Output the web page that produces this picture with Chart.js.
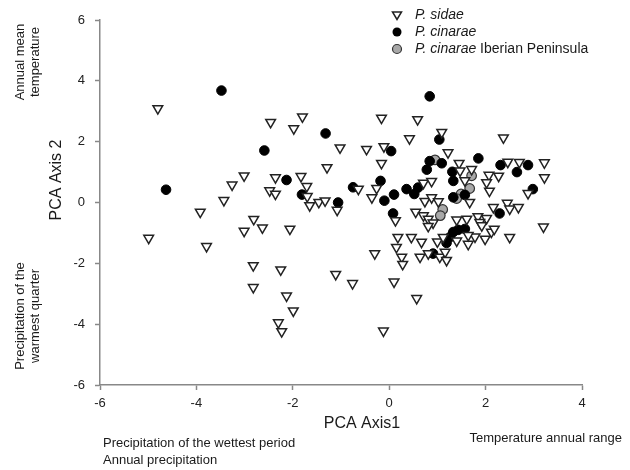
<!DOCTYPE html>
<html>
<head>
<meta charset="utf-8">
<script src="https://cdn.jsdelivr.net/npm/chart.js@4/dist/chart.umd.min.js"></script>
<style>
  body { margin: 0; background: #fff; }
  canvas { display: block; }
</style>
</head>
<body>
<canvas id="pca" width="630" height="470"></canvas>
<script>
// ---- data (PCA axis 1, PCA axis 2) ----
const sidaeX = [-4.80,-4.99,-3.01,-3.26,-3.43,-3.92,-2.81,-3.01,-3.79,-2.82,-2.82,-2.63,-2.06,-2.46,-1.80,-1.98,-1.02,-1.29,-0.16,0.59,0.42,-0.47,-0.11,-0.16,-2.36,-1.83,-1.71,-2.48,-2.36,-1.70,-1.65,-1.46,-1.33,-1.08,-0.64,-0.26,-0.36,0.13,0.55,1.09,2.37,1.22,1.45,1.47,1.71,1.57,2.46,2.70,3.22,3.22,2.07,2.27,2.02,2.08,2.88,1.67,0.71,0.88,0.74,0.88,1.02,0.71,0.81,0.91,0.81,1.40,1.61,1.84,2.02,1.88,1.92,2.16,2.45,2.50,2.68,3.20,0.18,0.46,0.67,0.15,0.26,0.28,0.64,0.81,1.05,1.16,1.19,1.00,1.12,1.40,1.64,1.78,1.64,1.99,2.12,2.18,2.50,0.57,-2.25,-2.13,-1.99,-2.30,-2.23,-1.11,-0.76,-0.30,-0.12,0.10];
const sidaeY = [3.09,-1.17,0.88,0.58,0.07,-0.31,-0.55,-0.94,-1.44,-2.07,-2.79,-0.83,-0.87,2.64,2.82,2.43,1.80,1.15,2.78,2.73,2.10,1.75,1.84,1.29,0.82,0.86,0.53,0.39,0.28,0.20,-0.10,0.01,0.06,-0.25,0.44,0.47,0.16,-0.59,-0.31,2.31,2.13,1.64,1.29,1.04,1.09,0.72,1.33,1.32,1.31,0.82,0.90,0.87,0.66,0.38,0.30,0.01,0.64,0.70,0.04,0.16,0.03,-0.43,-0.54,-0.67,-0.78,-0.57,-0.54,-0.46,-0.52,-0.65,-0.76,-0.16,-0.02,-0.21,-0.16,-0.80,-1.14,-1.14,-1.30,-1.47,-1.79,-2.03,-1.79,-1.68,-1.79,-1.63,-1.90,-1.29,-1.14,-1.26,-1.37,-1.13,-1.08,-1.20,-0.97,-0.87,-1.14,-3.15,-2.21,-3.07,-3.56,-3.95,-4.24,-2.36,-2.66,-1.68,-4.22,-2.61];

const cinaraeX = [-3.48,-4.63,0.84,-1.32,-2.59,0.04,-2.13,-1.81,-1.06,-0.75,-0.18,-0.10,0.10,0.36,0.52,0.60,0.08,1.04,1.85,0.84,1.09,0.78,1.31,1.33,2.31,2.88,2.65,2.98,1.57,1.33,2.29,0.91,1.19,1.26,1.33,1.43,1.57];
const cinaraeY = [3.68,0.42,3.49,2.27,1.71,1.69,0.74,0.26,0.00,0.50,0.71,0.06,0.26,0.44,0.28,0.49,-0.36,2.07,1.45,1.36,1.29,1.08,1.01,0.71,1.23,1.23,1.00,0.44,0.25,0.17,-0.36,-1.68,-1.33,-1.14,-0.97,-0.90,-0.87];

const iberiaX = [0.95,1.71,1.67,1.49,1.40,1.11,1.06];
const iberiaY = [1.40,0.88,0.46,0.28,0.13,-0.23,-0.43];

const xTicks = [-6, -4, -2, 0, 2, 4];
const yTicks = [-6, -4, -2, 0, 2, 4, 6];

const FONT = "'Liberation Sans', Arial, sans-serif";

function toPoints(xs, ys) {
    return xs.map((x, i) => ({ x: x, y: ys[i] }));
}

// extra labels, axis titles and the legend, drawn on top of the chart
const annotations = {
    id: 'annotations',
    afterDraw(chart) {
        const ctx = chart.ctx;
        ctx.save();
        ctx.fillStyle = '#1a1a1a';

        // rotated texts on the left
        function rotText(lines, x0, cy, size, gap) {
            ctx.save();
            ctx.font = size + 'px ' + FONT;
            ctx.textAlign = 'center';
            ctx.textBaseline = 'middle';
            lines.forEach((t, i) => {
                ctx.save();
                ctx.translate(x0 + i * gap, cy);
                ctx.rotate(-Math.PI / 2);
                ctx.fillText(t, 0, 0);
                ctx.restore();
            });
            ctx.restore();
        }
        rotText(['Annual mean', 'temperature'], 20, 62, 13, 15);
        rotText(['Precipitation of the', 'warmest quarter'], 20, 316, 13, 15);
        rotText(['PCA Axis 2'], 57, 180, 16, 0);

        // bottom texts
        ctx.textBaseline = 'middle';
        ctx.font = '16px ' + FONT;
        ctx.textAlign = 'center';
        ctx.fillText('PCA Axis1', 362, 424);
        ctx.font = '13px ' + FONT;
        ctx.textAlign = 'left';
        ctx.fillText('Precipitation of the wettest period', 103, 443);
        ctx.fillText('Annual precipitation', 103, 460);
        ctx.textAlign = 'right';
        ctx.fillText('Temperature annual range', 622, 438);

        // legend
        const lx = 397, rows = [15, 32, 49];
        ctx.lineWidth = 1.5;
        // triangle pointing down
        ctx.beginPath();
        ctx.moveTo(lx - 4.5, rows[0] - 3);
        ctx.lineTo(lx + 4.5, rows[0] - 3);
        ctx.lineTo(lx, rows[0] + 4.5);
        ctx.closePath();
        ctx.fillStyle = '#fff';
        ctx.fill();
        ctx.strokeStyle = '#222';
        ctx.stroke();
        ctx.beginPath();
        ctx.arc(lx, rows[1], 4.5, 0, Math.PI * 2);
        ctx.fillStyle = '#000';
        ctx.fill();
        ctx.beginPath();
        ctx.arc(lx, rows[2], 4.5, 0, Math.PI * 2);
        ctx.fillStyle = '#a8a8a8';
        ctx.fill();
        ctx.strokeStyle = '#333';
        ctx.lineWidth = 1.2;
        ctx.stroke();

        ctx.fillStyle = '#1a1a1a';
        ctx.textAlign = 'left';
        ctx.font = 'italic 14px ' + FONT;
        ctx.fillText('P. sidae', 415, rows[0]);
        ctx.fillText('P. cinarae', 415, rows[1]);
        ctx.fillText('P. cinarae', 415, rows[2]);
        const w = ctx.measureText('P. cinarae ').width;
        ctx.font = '14px ' + FONT;
        ctx.fillText('Iberian Peninsula', 415 + w, rows[2]);
        ctx.restore();
    }
};

window.addEventListener('load', function () {
    const ctx = document.getElementById('pca').getContext('2d');
    new Chart(ctx, {
        type: 'scatter',
        data: {
            datasets: [
                {
                    label: 'P. sidae',
                    data: toPoints(sidaeX, sidaeY),
                    pointStyle: 'triangle',
                    rotation: 180,
                    pointRadius: 5.6,
                    backgroundColor: '#ffffff',
                    borderColor: '#222222',
                    borderWidth: 1.5
                },
                {
                    label: 'P. cinarae',
                    data: toPoints(cinaraeX, cinaraeY),
                    pointStyle: 'circle',
                    pointRadius: 4.8,
                    backgroundColor: '#000000',
                    borderColor: '#000000',
                    borderWidth: 1
                },
                {
                    label: 'P. cinarae Iberian Peninsula',
                    data: toPoints(iberiaX, iberiaY),
                    pointStyle: 'circle',
                    pointRadius: 4.8,
                    backgroundColor: '#a8a8a8',
                    borderColor: '#333333',
                    borderWidth: 1.2
                }
            ]
        },
        options: {
            responsive: false,
            animation: false,
            layout: { padding: { left: 0, right: 48, top: 20, bottom: 0 } },
            plugins: {
                legend: { display: false },
                tooltip: { enabled: false }
            },
            scales: {
                x: {
                    min: xTicks[0],
                    max: xTicks[xTicks.length - 1],
                    afterFit: s => { s.height = 85; },
                    afterBuildTicks: s => { s.ticks = xTicks.map(v => ({ value: v })); },
                    grid: { drawOnChartArea: false, drawTicks: true, tickLength: 5, tickColor: '#888', tickWidth: 1.5 },
                    border: { color: '#888', width: 1.5 },
                    ticks: { padding: 6, color: '#222', font: { family: FONT, size: 13 }, maxRotation: 0 }
                },
                y: {
                    min: yTicks[0],
                    max: yTicks[yTicks.length - 1],
                    afterFit: s => { s.width = 100; },
                    afterBuildTicks: s => { s.ticks = yTicks.map(v => ({ value: v })); },
                    grid: { drawOnChartArea: false, drawTicks: true, tickLength: 5, tickColor: '#888', tickWidth: 1.5 },
                    border: { color: '#888', width: 1.5 },
                    ticks: { padding: 10, color: '#222', font: { family: FONT, size: 13 } }
                }
            }
        },
        plugins: [annotations]
    });
});
</script>
</body>
</html>
